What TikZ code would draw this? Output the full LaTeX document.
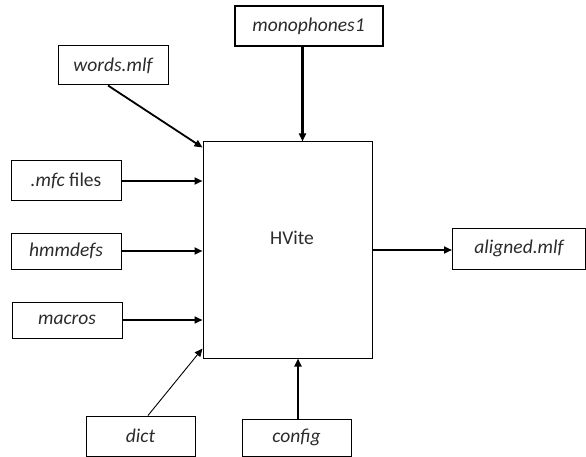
\documentclass[tikz,border=0pt]{standalone}
\usepackage{fontspec}
\setmainfont{Carlito}
\usetikzlibrary{arrows.meta}
\definecolor{txt}{HTML}{2B2B2B}
\begin{document}
\begin{tikzpicture}[x=1pt,y=-1pt,
  file/.style={draw=black, line width=1pt, rectangle, inner sep=0pt,
    text=txt, font=\fontsize{19.5}{22}\selectfont\itshape},
  flow/.style={line width=2.2pt, -{Triangle[length=8pt,width=7pt]}},
  thinflow/.style={line width=0.9pt, -{Triangle[length=8pt,width=7pt]}}]
  \useasboundingbox (0,0) rectangle (586,457);

  % central tool
  \node[draw=black, line width=1pt, minimum width=169pt, minimum height=216pt] (hvite) at (287.5,250) {};
  \node[text=txt, font=\fontsize{19.5}{22}\selectfont] (hvitelbl) at (292,238) {HVite};

  % input and output files
  \node[file, line width=2pt, minimum width=148pt, minimum height=40pt] (mono) at (308.5,26.5) {monophones1};
  \node[file, minimum width=110pt, minimum height=39pt] (words) at (113,65.5) {words.mlf};
  \node[file, minimum width=110pt, minimum height=40pt] (mfc) at (66,181) {.\textit{mfc}\upshape\ files};
  \node[file, minimum width=110pt, minimum height=36pt] (hmm) at (66,251) {hmmdefs};
  \node[file, minimum width=110pt, minimum height=36pt] (macros) at (67,320) {macros};
  \node[file, minimum width=109pt, minimum height=40pt] (dict) at (140.5,436) {dict};
  \node[file, minimum width=109pt, minimum height=37pt] (config) at (296.5,437.5) {config};
  \node[file, minimum width=133pt, minimum height=41pt] (aligned) at (519,248.5) {aligned.mlf};

  % connectors
  \draw[flow, line width=3pt] ([xshift=-6pt]mono.south) -- ([xshift=-6pt]mono.south |- hvite.north);
  \draw[flow, line width=1.8pt] ([xshift=-5pt]words.south) -- ([yshift=-6pt]hvite.north west);
  \draw[flow] (mfc.east) -- (mfc.east -| hvite.west);
  \draw[flow] (hmm.east) -- (hmm.east -| hvite.west);
  \draw[flow] (macros.east) -- (macros.east -| hvite.west);
  \draw[thinflow] ([xshift=7.5pt]dict.north) -- ([yshift=10pt]hvite.south west);
  \draw[flow] ([xshift=1.5pt]config.north) -- ([xshift=1.5pt]config.north |- hvite.south);
  \draw[flow] (hvite.east) -- (hvite.east -| aligned.west);
\end{tikzpicture}
\end{document}
